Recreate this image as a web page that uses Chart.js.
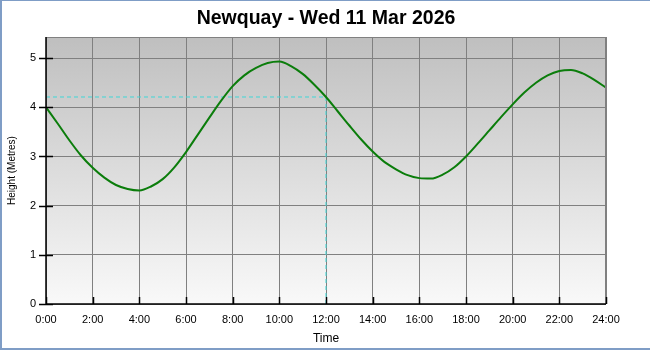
<!DOCTYPE html>
<html>
<head>
<meta charset="utf-8">
<script src="https://cdn.jsdelivr.net/npm/chart.js@4"></script>
<style>
  html, body { margin: 0; padding: 0; background: #fff; }
  #wrap {
    width: 648px; height: 347px;
    border-left: 2px solid #7f9dc6;
    border-top: 1px solid #7f9dc6;
    border-bottom: 2px solid #7f9dc6;
  }
</style>
</head>
<body>
<div id="wrap"><canvas id="tide" width="648" height="347"></canvas></div>
<script>
// tide heights every half hour
var hours = [0, 0.5, 1, 1.5, 2, 2.5, 3, 3.5, 4, 4.5, 5, 5.5, 6, 6.5, 7, 7.5, 8, 8.5, 9, 9.5, 10, 10.5,
             11, 11.5, 12, 12.5, 13, 13.5, 14, 14.5, 15, 15.5, 16, 16.5, 17, 17.5, 18, 18.5, 19, 19.5,
             20, 20.5, 21, 21.5, 22, 22.5, 23, 23.5, 24];
var heights = [4.00, 3.67, 3.33, 3.02, 2.77, 2.57, 2.42, 2.34, 2.31, 2.39, 2.54, 2.78, 3.09, 3.44,
               3.79, 4.13, 4.43, 4.65, 4.80, 4.90, 4.93, 4.84, 4.68, 4.46, 4.21, 3.92, 3.63, 3.35,
               3.10, 2.89, 2.74, 2.62, 2.56, 2.55, 2.63, 2.78, 3.00, 3.26, 3.53, 3.80, 4.06, 4.30,
               4.50, 4.65, 4.74, 4.76, 4.69, 4.56, 4.40];
var yTicks = [0, 1, 2, 3, 4, 5];
var xTicks = [0, 2, 4, 6, 8, 10, 12, 14, 16, 18, 20, 22, 24];
var markerTime = 12;
var markerHeight = 4.21;

var FONT = '"Liberation Sans", Arial, sans-serif';

var tidePoints = hours.map(function(h, i) { return {x: h, y: heights[i]}; });
var markerPoints = [{x: 0, y: markerHeight}, {x: markerTime, y: markerHeight}, {x: markerTime, y: 0}];

var plotDeco = {
    id: 'plotDeco',
    beforeDraw: function(chart) {
        var a = chart.chartArea, ctx = chart.ctx;
        var g = ctx.createLinearGradient(0, a.top, 0, a.bottom);
        g.addColorStop(0, '#bfbfbf');
        g.addColorStop(1, '#f9f9f9');
        ctx.save();
        ctx.fillStyle = g;
        ctx.fillRect(a.left, a.top, a.right - a.left, a.bottom - a.top);
        ctx.restore();
    },
    afterDraw: function(chart) {
        var a = chart.chartArea, ctx = chart.ctx;
        var xs = chart.scales.x, ys = chart.scales.y;
        ctx.save();
        ctx.strokeStyle = '#808080';
        ctx.lineWidth = 1;
        ctx.strokeRect(a.left + 0.5, a.top + 0.5, a.right - a.left - 1, a.bottom - a.top);
        ctx.strokeStyle = '#000';
        ctx.lineWidth = 1.5;
        ctx.beginPath();
        ctx.moveTo(a.left, a.top);
        ctx.lineTo(a.left, a.bottom);
        ctx.lineTo(a.right, a.bottom);
        ys.ticks.forEach(function(t) {
            var y = Math.round(ys.getPixelForValue(t.value)) + 0.5;
            ctx.moveTo(a.left - 7, y);
            ctx.lineTo(a.left + 7, y);
        });
        xs.ticks.forEach(function(t) {
            var x = Math.round(xs.getPixelForValue(t.value)) + 0.5;
            ctx.moveTo(x, a.bottom);
            ctx.lineTo(x, a.bottom - 7);
        });
        ctx.stroke();
        ctx.restore();
    }
};

new Chart(document.getElementById('tide'), {
    type: 'line',
    data: {
        datasets: [{
            data: tidePoints,
            borderColor: '#0b7d0b',
            borderWidth: 2,
            pointRadius: 0,
            cubicInterpolationMode: 'monotone',
            fill: false,
            order: 1
        }, {
            data: markerPoints,
            borderColor: '#3fd6d6',
            borderWidth: 1,
            borderDash: [4, 3],
            pointRadius: 0,
            tension: 0,
            fill: false,
            order: 2
        }]
    },
    options: {
        responsive: false,
        animation: false,
        layout: { padding: 0 },
        plugins: {
            legend: { display: false },
            tooltip: { enabled: false },
            title: {
                display: true,
                text: 'Newquay - Wed 11 Mar 2026',
                color: '#000',
                font: { family: FONT, size: 19.5, weight: 'bold', lineHeight: 1.2 },
                padding: { top: 6, bottom: 6.6 }
            }
        },
        scales: {
            x: {
                type: 'linear',
                min: 0,
                max: 24,
                afterBuildTicks: function(scale) {
                    scale.ticks = xTicks.map(function(v) { return {value: v}; });
                },
                afterFit: function(scale) { scale.height = 44; },
                grid: { color: '#808080', lineWidth: 1, drawTicks: false },
                border: { display: false },
                ticks: {
                    color: '#000',
                    padding: 9,
                    maxRotation: 0,
                    font: { family: FONT, size: 11 },
                    callback: function(v) { return v + ':00'; }
                },
                title: {
                    display: true,
                    text: 'Time',
                    color: '#000',
                    font: { family: FONT, size: 12 },
                    padding: { top: 0, bottom: 2 }
                }
            },
            y: {
                min: 0,
                max: 5.43,
                afterBuildTicks: function(scale) {
                    scale.ticks = yTicks.map(function(v) { return {value: v}; });
                },
                afterFit: function(scale) { scale.width = 44; },
                grid: { color: '#808080', lineWidth: 1, drawTicks: false },
                border: { display: false },
                ticks: {
                    color: '#000',
                    padding: 10,
                    font: { family: FONT, size: 11 }
                },
                title: {
                    display: true,
                    text: 'Height (Metres)',
                    color: '#000',
                    font: { family: FONT, size: 10 },
                    padding: { top: 4, bottom: 0 }
                }
            },
            spacer: {
                position: 'right',
                display: true,
                min: 0,
                max: 1,
                afterFit: function(scale) { scale.width = 44; },
                grid: { display: false, drawTicks: false },
                border: { display: false },
                ticks: { display: false }
            }
        }
    },
    plugins: [plotDeco]
});
</script>
</body>
</html>
